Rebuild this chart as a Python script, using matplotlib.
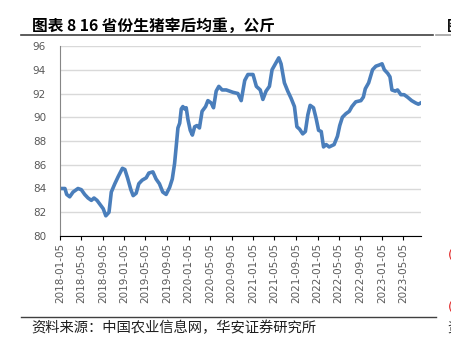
import matplotlib
matplotlib.use('Agg')
import matplotlib.pyplot as plt
import pandas as pd

plt.rcParams['font.family'] = ['DejaVu Sans', 'Noto Sans CJK SC']

# 16省份生猪宰后均重（公斤），读图估计
dates = [
    '2018-01-05', '2018-02-02', '2018-02-12', '2018-03-01', '2018-03-20', '2018-04-17',
    '2018-05-06', '2018-05-25', '2018-06-13', '2018-07-02', '2018-07-17', '2018-08-03',
    '2018-08-18', '2018-09-07', '2018-09-22', '2018-10-10', '2018-10-23', '2018-11-12',
    '2018-12-01', '2018-12-25', '2019-01-08', '2019-01-23', '2019-02-11', '2019-02-24',
    '2019-03-13', '2019-03-28', '2019-04-16', '2019-05-09', '2019-05-24', '2019-06-16',
    '2019-07-04', '2019-07-23', '2019-08-11', '2019-08-30', '2019-09-19', '2019-10-04',
    '2019-10-17', '2019-10-26', '2019-11-05', '2019-11-15', '2019-11-24', '2019-12-03',
    '2019-12-13', '2019-12-22', '2020-01-01', '2020-01-14', '2020-01-26', '2020-02-08',
    '2020-02-21', '2020-03-06', '2020-03-21', '2020-04-10', '2020-04-23', '2020-05-12',
    '2020-05-25', '2020-06-09', '2020-06-24', '2020-07-13', '2020-08-05', '2020-09-12',
    '2020-10-10', '2020-10-29', '2020-11-18', '2020-12-06', '2021-01-04', '2021-01-23',
    '2021-02-14', '2021-03-01', '2021-03-19', '2021-04-07', '2021-04-22', '2021-05-11',
    '2021-05-30', '2021-06-12', '2021-07-01', '2021-07-20', '2021-08-08', '2021-08-27',
    '2021-09-10', '2021-09-25', '2021-10-13', '2021-10-28', '2021-11-11', '2021-11-24',
    '2021-12-13', '2021-12-28', '2022-01-11', '2022-01-26', '2022-02-08', '2022-02-23',
    '2022-03-12', '2022-04-09', '2022-04-28', '2022-05-11', '2022-05-26', '2022-06-15',
    '2022-07-04', '2022-07-19', '2022-08-10', '2022-09-08', '2022-09-22', '2022-10-03',
    '2022-10-22', '2022-11-13', '2022-12-02', '2022-12-21', '2023-01-06', '2023-01-19',
    '2023-02-07', '2023-02-20', '2023-03-03', '2023-03-22', '2023-04-04', '2023-04-23',
    '2023-05-11', '2023-05-30', '2023-06-23', '2023-07-16', '2023-07-31', '2023-08-13',
]
weight = [
    84.0, 84.0, 83.5, 83.3, 83.7, 84.0,
    83.9, 83.5, 83.2, 83.0, 83.2, 83.0,
    82.7, 82.3, 81.7, 82.0, 83.7, 84.4,
    85.0, 85.7, 85.6, 84.9, 83.9, 83.4,
    83.6, 84.4, 84.7, 84.9, 85.3, 85.4,
    84.8, 84.4, 83.7, 83.5, 84.1, 84.8,
    86.1, 87.5, 89.1, 89.5, 90.7, 90.9,
    90.7, 90.8, 89.8, 88.9, 88.5, 89.2,
    89.3, 89.1, 90.5, 90.9, 91.4, 91.2,
    90.8, 92.2, 92.6, 92.3, 92.3, 92.1,
    92.0, 91.4, 93.1, 93.6, 93.6, 92.6,
    92.3, 91.5, 92.2, 92.6, 94.0, 94.5,
    95.0, 94.5, 92.9, 92.2, 91.6, 90.9,
    89.2, 89.0, 88.6, 88.8, 90.2, 91.0,
    90.8, 89.9, 88.9, 88.8, 87.5, 87.7,
    87.5, 87.7, 88.4, 89.3, 90.0, 90.3,
    90.5, 90.9, 91.3, 91.4, 91.7, 92.4,
    92.9, 94.0, 94.3, 94.4, 94.5, 94.0,
    93.7, 93.4, 92.3, 92.2, 92.3, 91.9,
    91.9, 91.7, 91.4, 91.2, 91.1, 91.2,
]
tick_dates = pd.date_range('2018-01-01', '2023-05-01', freq='4MS') + pd.Timedelta(days=4)

x = pd.to_datetime(dates)

fig = plt.figure(figsize=(4.51, 3.46), dpi=100)
ax = fig.add_axes([60 / 451, 1 - 236 / 346, 361 / 451, 190 / 346])

ax.plot(x, weight, color='#4a7ebb', linewidth=2.6, solid_joinstyle='round')

ax.set_ylim(80, 96)
ax.set_yticks(range(80, 97, 2))
ax.set_xlim(pd.Timestamp('2018-01-05'), pd.Timestamp('2023-08-15'))
ax.set_xticks(tick_dates)
ax.set_xticklabels([d.strftime('%Y-%m-%d') for d in tick_dates], rotation=90)

ax.grid(axis='y', color='#d9d9d9', linewidth=1.0)
ax.set_axisbelow(True)
for s in ['top', 'right']:
    ax.spines[s].set_visible(False)
ax.spines['left'].set_color('#868686')
ax.spines['bottom'].set_color('#000000')
ax.tick_params(axis='y', length=0, pad=10, labelsize=7.5, labelcolor='#595959')
ax.tick_params(axis='x', length=3, pad=2, labelsize=7.5, labelcolor='#595959', color='#000000')

# title, rules and source
fig.text(32 / 451, 1 - 26 / 346, '图表 8 16 省份生猪宰后均重，公斤', fontsize=11.3, fontweight='bold',
         family=['Noto Sans CJK SC', 'DejaVu Sans'], va='center', ha='left')
fig.add_artist(plt.Line2D([21 / 451, 433 / 451], [1 - 35 / 346] * 2, color='#404040', linewidth=1.2))
fig.add_artist(plt.Line2D([436 / 451, 451 / 451], [1 - 35 / 346] * 2, color='#a0a0a0', linewidth=1.2))
fig.text(447 / 451, 1 - 26 / 346, '图', fontsize=10.5, fontweight='bold',
         family=['Noto Sans CJK SC'], va='center', ha='left')

fig.add_artist(plt.Line2D([21 / 451, 436 / 451], [1 - 317 / 346] * 2, color='#404040', linewidth=1.0))
fig.text(31 / 451, 1 - 328 / 346, '资料来源：中国农业信息网，华安证券研究所', fontsize=10.3,
         family=['Noto Sans CJK SC'], va='center', ha='left', color='#202020')
fig.text(447 / 451, 1 - 328 / 346, '资', fontsize=10,
         family=['Noto Sans CJK SC'], va='center', ha='left', color='#202020')

fig.text(448 / 451, 1 - 255 / 346, '(', fontsize=9, color='#e02020', va='center', ha='left')
fig.text(448 / 451, 1 - 307 / 346, '(', fontsize=9, color='#e02020', va='center', ha='left')

fig.savefig('out.png', dpi=100)
